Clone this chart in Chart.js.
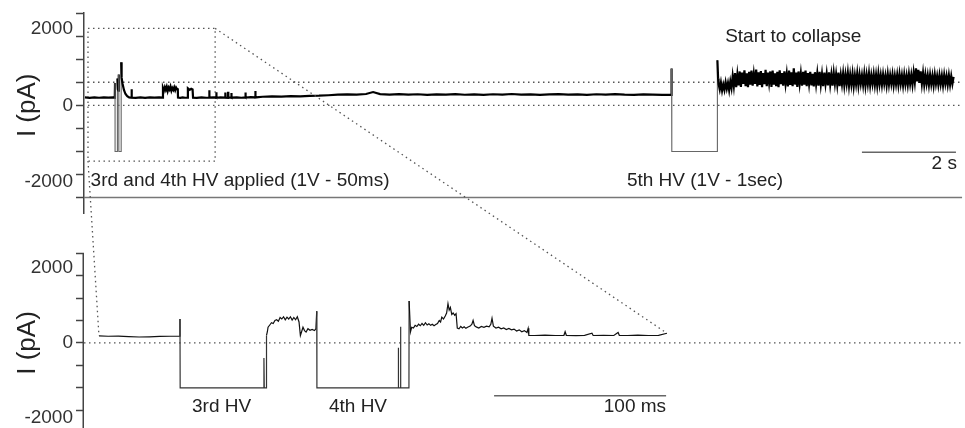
<!DOCTYPE html>
<html>
<head>
<meta charset="utf-8">
<script src="https://cdn.jsdelivr.net/npm/chart.js@4"></script>
<style>
  html, body { margin: 0; background: #fff; }
  canvas { display: block; }
</style>
</head>
<body>
<canvas id="trace" width="965" height="428"></canvas>
<script>
// top panel: whole recording, [time (s), current (pA)]
const topTrace = [
  [0.02, 205], [0.12, 195], [0.22, 208], [0.32, 196], [0.42, 204], [0.52, 198], [0.62, 206],
  [0.655, 200], [0.66, 580], [0.661, -1200], [0.71, -1200], [0.711, 700], [0.72, 420], [0.735, 380],
  [0.74, 800], [0.741, -1200], [0.79, -1200], [0.791, 1120], [0.80, 720], [0.82, 560], [0.85, 400],
  [0.88, 300], [0.92, 240], [0.96, 205], [1.00, 200], [1.01, 420], [1.02, 200], [1.10, 195],
  [1.20, 205], [1.30, 192], [1.40, 206], [1.50, 198], [1.60, 204], [1.675, 200],
  [1.68, 450], [1.70, 380], [1.72, 470], [1.74, 400], [1.76, 480], [1.78, 370], [1.80, 460],
  [1.82, 410], [1.84, 490], [1.86, 380], [1.88, 450], [1.90, 400], [1.92, 470], [1.94, 390],
  [1.96, 460], [1.98, 420], [1.995, 440], [2.00, 200], [2.05, 192], [2.10, 206], [2.15, 196],
  [2.205, 200], [2.21, 440], [2.25, 400], [2.28, 430], [2.31, 410], [2.32, 200], [2.40, 192],
  [2.50, 206], [2.60, 196], [2.66, 200], [2.665, 390], [2.67, 200], [2.75, 206], [2.81, 200],
  [2.815, 340], [2.82, 196], [2.90, 206], [3.00, 200], [3.005, 330], [3.01, 200], [3.06, 196],
  [3.065, 350], [3.07, 200], [3.13, 205], [3.135, 320], [3.14, 200], [3.25, 204], [3.35, 196],
  [3.43, 205], [3.435, 330], [3.44, 200], [3.55, 212], [3.64, 205], [3.645, 370], [3.65, 205],
  [3.80, 222], [4.0, 232], [4.2, 226], [4.4, 238], [4.6, 234], [4.8, 244], [5.0, 250], [5.2, 262],
  [5.4, 276], [5.6, 286], [5.8, 278], [6.0, 294], [6.15, 345], [6.3, 290], [6.5, 280], [6.7, 292],
  [6.9, 276], [7.1, 288], [7.3, 272], [7.5, 286], [7.7, 278], [7.9, 290], [8.1, 275], [8.3, 284],
  [8.5, 272], [8.7, 288], [8.9, 280], [9.1, 294], [9.3, 276], [9.5, 286], [9.7, 272], [9.9, 282],
  [10.1, 290], [10.3, 276], [10.5, 284], [10.7, 272], [10.9, 288], [11.1, 280], [11.3, 292],
  [11.5, 278], [11.7, 272], [11.9, 284], [12.1, 276], [12.3, 270], [12.49, 272],
  [12.50, 960], [12.505, -1200], [13.47, -1200], [13.475, 1170], [13.49, 700]
];

// top panel after the 5th HV: noisy "collapse" current
const collapseTrace = [
  [13.500, 560], [13.525, 410], [13.550, 590], [13.575, 380], [13.600, 540], [13.625, 400], [13.650, 600], [13.675, 430],
  [13.700, 580], [13.725, 390], [13.750, 620], [13.775, 450], [13.800, 760], [13.825, 500], [13.850, 840], [13.875, 470],
  [13.900, 800], [13.925, 520], [13.950, 880], [13.975, 480], [14.000, 850], [14.025, 560], [14.050, 910], [14.075, 500],
  [14.100, 830], [14.125, 470], [14.150, 870], [14.175, 540], [14.200, 900], [14.225, 510], [14.250, 820], [14.275, 560],
  [14.300, 930], [14.325, 490], [14.350, 860], [14.375, 530], [14.400, 890], [14.425, 470], [14.450, 840], [14.475, 550],
  [14.500, 920], [14.525, 500], [14.550, 850], [14.575, 580], [14.600, 880], [14.625, 480], [14.650, 900], [14.675, 540],
  [14.700, 830], [14.725, 500], [14.750, 870], [14.775, 470], [14.800, 910], [14.825, 550], [14.850, 840], [14.875, 510],
  [14.900, 880], [14.925, 560], [14.950, 820], [14.975, 490], [15.000, 900], [15.025, 530], [15.050, 860], [15.075, 500],
  [15.100, 960], [15.125, 540], [15.150, 850], [15.175, 480], [15.200, 880], [15.225, 560], [15.250, 830], [15.275, 510],
  [15.300, 870], [15.325, 540], [15.350, 900], [15.375, 500], [15.400, 840], [15.425, 560], [15.450, 870], [15.475, 520],
  [15.500, 820], [15.525, 490], [15.550, 860], [15.575, 550], [15.600, 830], [15.625, 510], [15.650, 870], [15.675, 540],
  [15.700, 810], [15.725, 500], [15.750, 850], [15.775, 560], [15.800, 820], [15.825, 520], [15.850, 860], [15.875, 540],
  [15.900, 800], [15.925, 510], [15.950, 840], [15.975, 560], [16.000, 810], [16.025, 530], [16.050, 850], [16.075, 500],
  [16.100, 790], [16.125, 550], [16.150, 830], [16.175, 520], [16.200, 800], [16.225, 560], [16.250, 840], [16.275, 510],
  [16.300, 790], [16.325, 540], [16.350, 820], [16.375, 500], [16.400, 780], [16.425, 550], [16.450, 830], [16.475, 520],
  [16.500, 800], [16.525, 560], [16.550, 780], [16.575, 530], [16.600, 820], [16.625, 510], [16.650, 790], [16.675, 550],
  [16.700, 830], [16.725, 520], [16.750, 780], [16.775, 560], [16.800, 810], [16.825, 530], [16.850, 790], [16.875, 510],
  [16.900, 820], [16.925, 550], [16.950, 780], [16.975, 530], [17.000, 800], [17.025, 560], [17.050, 770], [17.075, 520],
  [17.100, 810], [17.125, 540], [17.150, 780], [17.175, 560], [17.200, 800], [17.225, 520], [17.250, 770], [17.275, 550],
  [17.300, 790], [17.325, 530], [17.350, 810], [17.375, 560], [17.400, 780], [17.425, 520], [17.450, 800], [17.475, 550],
  [17.500, 770], [17.525, 530], [17.550, 810], [17.575, 560], [17.600, 790], [17.625, 540], [17.650, 850], [17.675, 600],
  [17.700, 960], [17.725, 620], [17.750, 920], [17.775, 580], [17.800, 880], [17.825, 560], [17.850, 840], [17.875, 540],
  [17.900, 800], [17.925, 560], [17.950, 780], [17.975, 530], [18.000, 790], [18.025, 550], [18.050, 770], [18.075, 520],
  [18.100, 800], [18.125, 560], [18.150, 760], [18.175, 530], [18.200, 780], [18.225, 550], [18.250, 770], [18.275, 520],
  [18.300, 790], [18.325, 560], [18.350, 760], [18.375, 530], [18.400, 780], [18.425, 540], [18.450, 760], [18.475, 560],
  [18.500, 740]
];

// bottom panel: zoom on the 3rd and 4th HV, [time (ms), current (pA)]
const zoomTrace = [
  [8.7, 190], [14, 180], [20, 185], [26, 170], [32, 160], [38, 165], [44, 175], [50, 180],
  [55.5, 185], [55.8, 640], [55.9, -1200], [104.5, -1200], [104.6, -400], [104.8, -1200],
  [106.0, -1200], [106.1, 200], [106.6, 300], [107.0, 420], [108, 480], [109, 540], [110, 520],
  [111, 600], [112, 620], [113, 580], [114, 680], [115, 640], [116, 700], [117, 620], [118, 690],
  [119, 640], [120, 700], [121, 610], [122, 680], [123, 620], [124, 700], [125, 560],
  [125.8, 200], [126.5, 300], [127.3, 420], [128.2, 330], [129.1, 290], [130.2, 380],
  [131.4, 340], [132.6, 360], [134, 330], [134.8, 380], [135.3, 850], [135.4, -1200],
  [182.6, -1200], [182.7, -130], [182.9, -1200], [183.9, -1200], [184.0, 430], [184.2, -1200],
  [188.9, -1200], [189.0, 1120], [189.8, 300], [190.5, 420], [191.5, 400], [192.5, 470],
  [193.5, 440], [194.5, 500], [195.5, 460], [196.5, 520], [197.5, 470], [198.5, 540],
  [199.5, 480], [200.5, 510], [201.5, 470], [202.5, 500], [203.5, 460], [204.5, 490],
  [205.5, 520], [206.5, 600], [207.3, 560], [208, 690], [209, 640], [210, 720], [210.8, 800],
  [211.6, 1050], [212.3, 880], [213, 950], [213.8, 760], [214.6, 800], [215.5, 740],
  [216.3, 780], [217, 400], [218, 380], [219, 440], [220, 400], [221, 430], [222, 390],
  [223, 420], [224.5, 450], [225.5, 500], [226.2, 600], [227, 460], [228, 430], [229.5, 400],
  [231, 440], [232.5, 420], [234, 450], [235.5, 430], [236.5, 500], [237.2, 660], [238, 450],
  [239.5, 400], [241, 420], [242.5, 380], [244, 400], [245.5, 360], [247, 390], [248.5, 350],
  [250, 370], [251.5, 320], [253, 350], [254.5, 300], [256, 330], [257.5, 280], [258.2, 390],
  [258.6, 200], [262, 200], [268, 210], [274, 200], [279, 205], [279.7, 300], [280.4, 205],
  [286, 195], [291, 205], [295.3, 260], [296, 200], [302, 205], [308, 200], [310.5, 280],
  [311.2, 205], [316, 200], [322, 210], [328, 200], [334, 205], [338.9, 260]
];

// zoom frame on the top panel and reference levels
const zoomBox = [[0.085, 2000], [2.79, 2000], [2.79, -1450], [0.085, -1450], [0.085, 2000]];
const topLevels = [0, 600];
const topBaseline = -2400;
const topEnd = 18.68;
const botEnd = 510;
const bar2s = [[16.55, -1220], [18.55, -1220]];
const bar100ms = [[238.4, -1410], [338.4, -1410]];
const pulseLevel = -1200;

// ticks
const topTicks = [-2400, -2000, -1800, -1200, -600, 0, 600, 1200, 1800, 2000, 2400];
const botTicks = [-2000, -1800, -1200, -600, 0, 600, 1200, 1800, 2000, 2400];
const labelTicks = [-2000, 0, 2000];
const botAxisTop = 2400;

const notes = [
  { text: '3rd and 4th HV applied (1V - 50ms)', panel: 'top', at: [0.14, -1950], align: 'left' },
  { text: '5th HV (1V - 1sec)', panel: 'top', at: [11.55, -1950], align: 'left' },
  { text: 'Start to collapse', panel: 'top', at: [13.64, 1770], align: 'left' },
  { text: '2 s', panel: 'top', at: [18.57, -1510], align: 'right' },
  { text: '3rd HV', panel: 'bot', at: [62.8, -1710], align: 'left' },
  { text: '4th HV', panel: 'bot', at: [142.4, -1710], align: 'left' },
  { text: '100 ms', panel: 'bot', at: [338.4, -1710], align: 'right' }
];

const FONT = '"Liberation Sans", Arial, sans-serif';
const axisColor = '#444';
const dotColor = '#555';

const pts = arr => arr.map(([x, y]) => ({ x, y }));
const onTop = { xAxisID: 'xTop', yAxisID: 'yTop' };
const onBot = { xAxisID: 'xBot', yAxisID: 'yBot' };
const dotted = { borderColor: dotColor, borderWidth: 1.3, borderDash: [1.5, 3.5] };
// pulse edges are drawn thin and grey, as in the original recording
const inPulse = ctx => ctx.p0.parsed.y <= pulseLevel || ctx.p1.parsed.y <= pulseLevel;

const fitAxis = s => { s.width = 84; s.paddingTop = 0; s.paddingBottom = 0; };
const tickOpts = {
  autoSkip: false,
  padding: 3,
  color: '#333',
  font: { family: FONT, size: 19 },
  callback: v => labelTicks.includes(v) ? String(v) : ''
};
const gridOpts = {
  drawOnChartArea: false,
  tickLength: 8,
  tickWidth: 1.5,
  tickColor: ctx => (ctx.tick && ctx.tick.value % 600 === 0) ? axisColor : 'rgba(0,0,0,0)'
};

const overlay = {
  id: 'overlay',
  afterDraw(chart) {
    const { ctx, chartArea } = chart;
    const { xTop, yTop, xBot, yBot } = chart.scales;
    ctx.save();

    // bottom panel axis line
    ctx.strokeStyle = axisColor;
    ctx.lineWidth = 1.5;
    ctx.beginPath();
    ctx.moveTo(chartArea.left - 0.75, yBot.getPixelForValue(botAxisTop));
    ctx.lineTo(chartArea.left - 0.75, yBot.bottom);
    ctx.stroke();

    // zoom connectors
    ctx.setLineDash([1.5, 3.5]);
    ctx.strokeStyle = dotColor;
    ctx.lineWidth = 1.3;
    const first = zoomTrace[0], last = zoomTrace[zoomTrace.length - 1];
    ctx.beginPath();
    ctx.moveTo(xTop.getPixelForValue(zoomBox[1][0]), yTop.getPixelForValue(zoomBox[1][1]));
    ctx.lineTo(xBot.getPixelForValue(last[0]), yBot.getPixelForValue(last[1]));
    ctx.moveTo(xTop.getPixelForValue(zoomBox[3][0]), yTop.getPixelForValue(zoomBox[3][1]));
    ctx.lineTo(xBot.getPixelForValue(first[0]), yBot.getPixelForValue(first[1]));
    ctx.stroke();
    ctx.setLineDash([]);

    // texts
    ctx.fillStyle = '#222';
    ctx.textBaseline = 'middle';
    ctx.font = '19px ' + FONT;
    notes.forEach(n => {
      const xs = n.panel === 'top' ? xTop : xBot;
      const ys = n.panel === 'top' ? yTop : yBot;
      ctx.textAlign = n.align;
      ctx.fillText(n.text, xs.getPixelForValue(n.at[0]), ys.getPixelForValue(n.at[1]));
    });

    // axis titles, centred on zero
    ctx.font = '26px ' + FONT;
    ctx.textAlign = 'center';
    [yTop, yBot].forEach(s => {
      ctx.save();
      ctx.translate(28, s.getPixelForValue(0));
      ctx.rotate(-Math.PI / 2);
      ctx.fillText('I (pA)', 0, 0);
      ctx.restore();
    });
    ctx.restore();
  }
};

new Chart(document.getElementById('trace'), {
  type: 'line',
  data: {
    datasets: [
      {
        data: pts(topTrace.concat(collapseTrace)), ...onTop, borderColor: '#000', borderWidth: 2.2,
        segment: {
          borderColor: ctx => inPulse(ctx) ? '#666' : undefined,
          borderWidth: ctx => inPulse(ctx) ? 1.1 : undefined
        }
      },
      {
        data: pts(zoomTrace), ...onBot, borderColor: '#111', borderWidth: 1.2,
        segment: { borderColor: ctx => inPulse(ctx) ? '#333' : undefined }
      },
      ...topLevels.map(v => ({ data: pts([[zoomBox[0][0], v], [topEnd, v]]), ...onTop, ...dotted })),
      { data: pts([[0, 0], [botEnd, 0]]), ...onBot, ...dotted },
      { data: pts(zoomBox), ...onTop, ...dotted },
      { data: pts([[0, topBaseline], [topEnd, topBaseline]]), ...onTop, borderColor: '#777', borderWidth: 1.5 },
      { data: pts(bar2s), ...onTop, borderColor: '#666', borderWidth: 1.5 },
      { data: pts(bar100ms), ...onBot, borderColor: '#666', borderWidth: 1.5 }
    ]
  },
  options: {
    responsive: false,
    animation: false,
    layout: { padding: { top: 13, right: 2, bottom: 0, left: 0 } },
    elements: { point: { radius: 0 }, line: { tension: 0 } },
    plugins: { legend: { display: false }, tooltip: { enabled: false } },
    scales: {
      xTop: { type: 'linear', display: false, min: 0, max: 18.7 },
      xBot: { type: 'linear', display: false, min: 0, max: 511 },
      yBot: {
        type: 'linear', position: 'left', stack: 'panels', stackWeight: 215,
        min: -2270, max: 3470,
        afterBuildTicks: s => { s.ticks = botTicks.map(value => ({ value })); },
        afterFit: fitAxis,
        ticks: tickOpts, grid: gridOpts,
        border: { display: false }
      },
      yTop: {
        type: 'linear', position: 'left', stack: 'panels', stackWeight: 200,
        min: -2800, max: 2400,
        afterBuildTicks: s => { s.ticks = topTicks.map(value => ({ value })); },
        afterFit: fitAxis,
        ticks: tickOpts, grid: gridOpts,
        border: { display: true, color: axisColor, width: 1.5 }
      }
    }
  },
  plugins: [overlay]
});
</script>
</body>
</html>
